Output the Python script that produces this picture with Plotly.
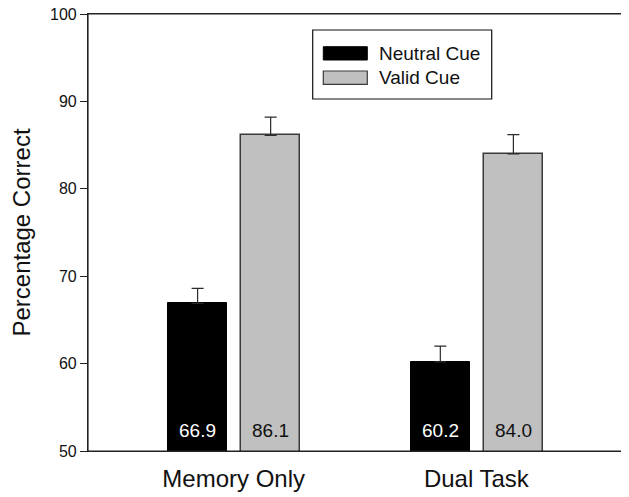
import plotly.graph_objects as go

categories = ["Memory Only", "Dual Task"]
neutral_vals = [66.9, 60.2]
valid_vals = [86.1, 84.0]
neutral_err = [1.7, 1.8]
valid_err = [2.1, 2.2]
series_names = ["Neutral Cue", "Valid Cue"]
y_ticks = [50, 60, 70, 80, 90, 100]

FONT = "Liberation Sans, Arial, Helvetica, sans-serif"
BAR_W = 0.243
OFF_N = -0.270
OFF_V = 0.031

xs = list(range(len(categories)))

fig = go.Figure()
fig.add_trace(go.Bar(
    x=xs, y=neutral_vals, name=series_names[0], width=BAR_W, offset=OFF_N,
    marker=dict(color="#000000", line=dict(color="#000000", width=1)),
    error_y=dict(type="data", array=neutral_err, arrayminus=[0]*len(xs), symmetric=False,
                 color="#2a2a2a", thickness=1.2, width=6),
    showlegend=False,
))
fig.add_trace(go.Bar(
    x=xs, y=valid_vals, name=series_names[1], width=BAR_W, offset=OFF_V,
    marker=dict(color="#c0c0c0", line=dict(color="#3a3a3a", width=1.5)),
    error_y=dict(type="data", array=valid_err, arrayminus=[0]*len(xs), symmetric=False,
                 color="#2a2a2a", thickness=1.2, width=6),
    showlegend=False,
))

# value labels at bottom of bars
for i in xs:
    fig.add_annotation(x=i + OFF_N + BAR_W/2, y=50, xref="x", yref="y",
                       text=f"{neutral_vals[i]:.1f}", showarrow=False,
                       yanchor="middle", yshift=21,
                       font=dict(family=FONT, size=19, color="white"))
    fig.add_annotation(x=i + OFF_V + BAR_W/2, y=50, xref="x", yref="y",
                       text=f"{valid_vals[i]:.1f}", showarrow=False,
                       yanchor="middle", yshift=21,
                       font=dict(family=FONT, size=19, color="#111111"))

# page offset from default body margin
OFS = 8
W, H = 629 - OFS, 497 - OFS
# plot area in page pixels
L, R, T, B = 88, 622, 14, 451
def px(x): return (x - L) / (R - L)
def py(y): return (B - y) / (B - T)

# custom legend (paper coords)
fig.add_shape(type="rect", xref="paper", yref="paper",
              x0=px(312.7), x1=px(491.7), y0=py(99), y1=py(30),
              line=dict(color="#111111", width=1.2), fillcolor="white", layer="above")
fig.add_shape(type="rect", xref="paper", yref="paper",
              x0=px(323.3), x1=px(367.3), y0=py(60), y1=py(46.7),
              line=dict(color="#000000", width=1), fillcolor="#000000", layer="above")
fig.add_shape(type="rect", xref="paper", yref="paper",
              x0=px(323.3), x1=px(367.3), y0=py(84.3), y1=py(71),
              line=dict(color="#3a3a3a", width=1.2), fillcolor="#c0c0c0", layer="above")
for name, yc in zip(series_names, [53.5, 78]):
    fig.add_annotation(xref="paper", yref="paper", x=px(377), y=py(yc),
                       text=name, showarrow=False, xanchor="left", yanchor="middle",
                       font=dict(family=FONT, size=19, color="#111111"))

# plot frame
fig.add_shape(type="rect", xref="paper", yref="paper", x0=0, x1=1, y0=0, y1=1,
              line=dict(color="#222222", width=1.2), layer="above")

fig.update_layout(
    width=W, height=H,
    margin=dict(l=L - OFS, r=629 - R, t=T - OFS, b=497 - B, autoexpand=False),
    paper_bgcolor="white", plot_bgcolor="white",
    font=dict(family=FONT, color="#111111"),
    bargap=0,
)
fig.update_xaxes(
    range=[-0.6, 1.6], tickvals=xs, ticktext=categories,
    ticks="", showgrid=False, zeroline=False, automargin=False,
    showline=True, linecolor="#222222", linewidth=1.2, mirror=True,
    tickfont=dict(family=FONT, size=24, color="#111111"),
    ticklabelstandoff=6, ticklabeloverflow="allow",
)
fig.update_yaxes(
    range=[50, 100], tickvals=y_ticks, ticks="outside", ticklen=7,
    tickcolor="#222222", tickwidth=1.2, automargin=False,
    showgrid=False, zeroline=False,
    showline=True, linecolor="#222222", linewidth=1.2, mirror=True,
    tickfont=dict(family=FONT, size=16, color="#111111"),
    ticklabeloverflow="allow",
    title=dict(text="Percentage Correct", font=dict(family=FONT, size=24, color="#111111"), standoff=16),
)

fig.write_html("out.html")
